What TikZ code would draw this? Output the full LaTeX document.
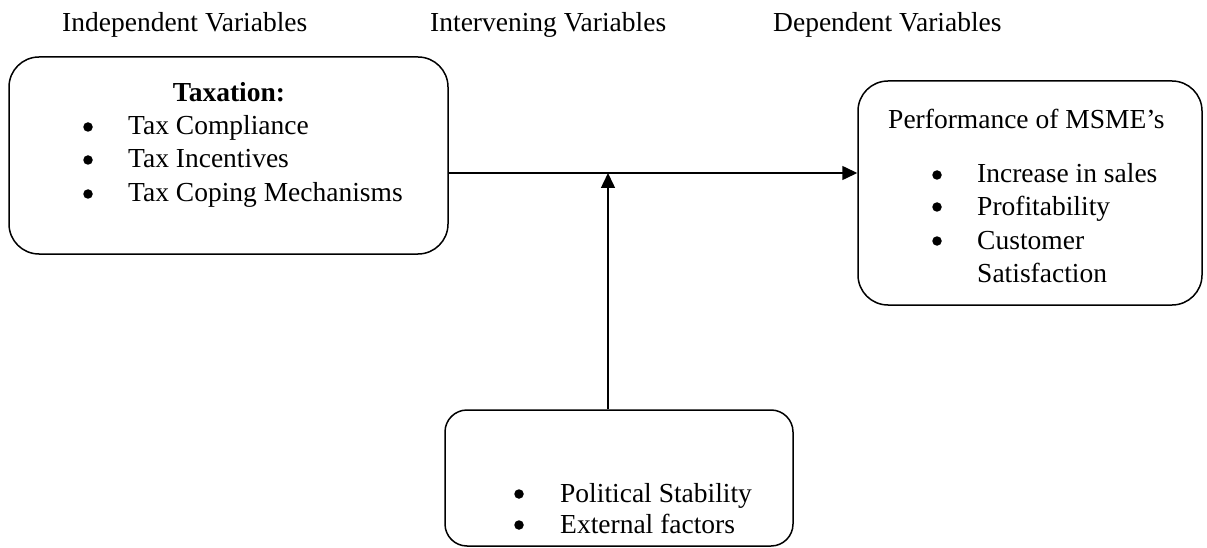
\documentclass[tikz,border=0pt]{standalone}
\usepackage{fontspec}
\setmainfont{Liberation Serif}
\usetikzlibrary{arrows.meta}

\begin{document}
\begin{tikzpicture}[x=1pt,y=1pt,yscale=-1,xscale=1,
		font=\fontsize{27.5}{33}\selectfont,
		varbox/.style={draw, line width=1.5pt, rounded corners=30pt, inner sep=0pt},
		txt/.style={anchor=base west, inner sep=0pt},
		dot/.style={circle, fill, inner sep=0pt, minimum size=9.5pt},
		link/.style={line width=1.5pt, -{Triangle[length=15pt,width=14pt]}}]
		\useasboundingbox (0,0) rectangle (1207,548); % Diagram is 1207 wide and 548 high

		% Column headings
		\node[txt] (indephead) at (62,32) {Independent Variables};
		\node[txt] (intervhead) at (430,32) {Intervening Variables};
		\node[txt] (dephead) at (773,32) {Dependent Variables};

		% The rounded boxes
		\node[varbox, minimum width=439pt, minimum height=197pt] (taxbox) at (228.5,155.5) {};
		\node[varbox, minimum width=344pt, minimum height=224pt] (perfbox) at (1030,193) {};
		\node[varbox, rounded corners=22pt, minimum width=348pt, minimum height=136pt] (extbox) at (619,478) {};

		% Text of the left box
		\node[anchor=base, inner sep=0pt] (taxtitle) at (229,102) {\textbf{Taxation:}};
		\node[dot] (taxb1) at (88,127) {};
		\node[txt] (taxt1) at (128,135) {Tax Compliance};
		\node[dot] (taxb2) at (88,160) {};
		\node[txt] (taxt2) at (128,168) {Tax Incentives};
		\node[dot] (taxb3) at (88,194) {};
		\node[txt] (taxt3) at (128,202) {Tax Coping Mechanisms};

		% Text of the right box
		\node[txt] (perftitle) at (888,129) {Performance of MSME’s};
		\node[dot] (perfb1) at (937,175) {};
		\node[txt] (perft1) at (977,183) {Increase in sales};
		\node[dot] (perfb2) at (937,207) {};
		\node[txt] (perft2) at (977,215) {Profitability};
		\node[dot] (perfb3) at (937,241) {};
		\node[txt] (perft3) at (977,249) {Customer};
		\node[txt] (perft4) at (977,282) {Satisfaction};

		% Text of the bottom box
		\node[dot] (extb1) at (519,494) {};
		\node[txt] (extt1) at (560,502) {Political Stability};
		\node[dot] (extb2) at (519,525) {};
		\node[txt] (extt2) at (560,533) {External factors};

		% Point where the two arrows meet
		\coordinate (meet) at (608,173);

		% Horizontal arrow from taxation to performance
		\draw[link] (taxbox.east |- meet) -- (perfbox.west |- meet);

		% Vertical arrow from the bottom box up to the horizontal arrow
		\draw[link] (extbox.north -| meet) -- (meet);
	\end{tikzpicture}
\end{document}
